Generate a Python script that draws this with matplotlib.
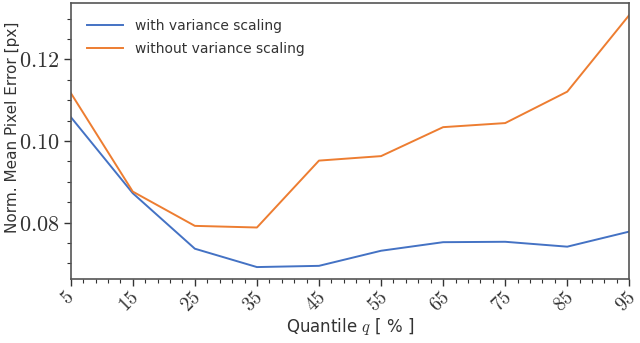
import matplotlib
matplotlib.use("Agg")
import matplotlib.pyplot as plt
from matplotlib.ticker import MultipleLocator, FuncFormatter
from matplotlib.transforms import ScaledTranslation

# Values
quantiles = [5, 15, 25, 35, 45, 55, 65, 75, 85, 95]
with_scaling = [0.1059, 0.0872, 0.0736, 0.0691, 0.0694, 0.0731, 0.0752, 0.0753, 0.0741, 0.0778]
without_scaling = [0.1118, 0.0876, 0.0792, 0.0788, 0.0952, 0.0963, 0.1034, 0.1044, 0.1121, 0.1309]
series_labels = ["with variance scaling", "without variance scaling"]

plt.rcParams['mathtext.fontset'] = 'cm'
plt.rcParams['font.family'] = ['DejaVu Sans']

fig = plt.figure(figsize=(6.4, 3.43), dpi=100)
ax = fig.add_axes([0.1105, 0.1857, 0.8728, 0.8063])

ax.plot(quantiles, with_scaling, color='#4472C4', linewidth=1.4, label=series_labels[0])
ax.plot(quantiles, without_scaling, color='#ED7D31', linewidth=1.4, label=series_labels[1])

ax.set_xlim(5, 95)
ax.set_ylim(0.0661, 0.1339)

ax.xaxis.set_major_locator(MultipleLocator(10, offset=5))
ax.xaxis.set_minor_locator(MultipleLocator(2, offset=1))
ax.yaxis.set_major_locator(MultipleLocator(0.02))
ax.yaxis.set_minor_locator(MultipleLocator(0.005))
ax.xaxis.set_major_formatter(FuncFormatter(lambda v, p: f"${v:.0f}$"))
ax.yaxis.set_major_formatter(FuncFormatter(lambda v, p: f"${v:.2f}$"))

for s in ax.spines.values():
    s.set_color('#555555')
    s.set_linewidth(1.2)

ax.tick_params(which='major', direction='out', length=5, width=1.0, color='#333333', labelcolor='#333333')
ax.tick_params(which='minor', direction='out', length=3, width=0.8, color='#333333')
ax.tick_params(axis='x', which='major', labelrotation=45, pad=1, labelsize=14)
ax.tick_params(axis='y', which='major', pad=3, labelsize=16)

# nudge the rotated x labels a little left so "95" stays inside the canvas
shift = ScaledTranslation(-0.035, 0, fig.dpi_scale_trans)
for lbl in ax.get_xticklabels():
    lbl.set_horizontalalignment('center')
    lbl.set_transform(lbl.get_transform() + shift)

ax.set_xlabel("Quantile $q$ [ % ]", fontsize=12, color='#333333', labelpad=0)
ax.set_ylabel("Norm. Mean Pixel Error [px]", fontsize=11, color='#333333')
ax.yaxis.set_label_coords(-0.09, 0.55)

leg = ax.legend(loc='upper left', frameon=False, fontsize=10, handlelength=2.6,
                handletextpad=0.9, labelspacing=0.65, borderaxespad=0.75)
for t in leg.get_texts():
    t.set_color('#333333')

fig.savefig("out.png", dpi=100)
